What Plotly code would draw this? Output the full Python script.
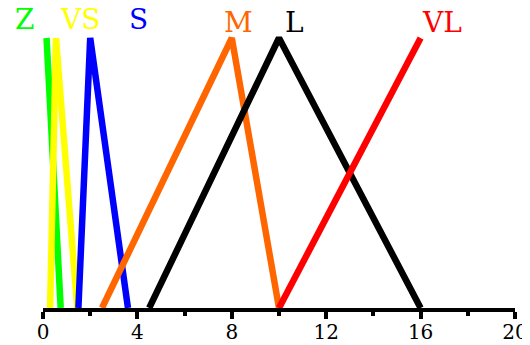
import plotly.graph_objects as go

# Fuzzy membership functions (universe 0..20, membership 0..1)
labels = ["Z", "VS", "S", "M", "L", "VL"]
colors = ["#00ff00", "#ffff00", "#0000ff", "#ff6600", "#000000", "#ff0000"]

z_x = [0.15, 0.75]
z_mu = [1, 0]
vs_x = [0.3, 0.55, 1.45]
vs_mu = [0, 1, 0]
s_x = [1.5, 2.0, 3.6]
s_mu = [0, 1, 0]
m_x = [2.5, 8.0, 10.0]
m_mu = [0, 1, 0]
l_x = [4.5, 10.0, 16.0]
l_mu = [0, 1, 0]
vl_x = [10.0, 16.0]
vl_mu = [0, 1]

tick_vals = [0, 4, 8, 12, 16, 20]
tick_text = ["0", "4", "8", "12", "16", "20"]

series_x = [z_x, vs_x, s_x, m_x, l_x, vl_x]
series_mu = [z_mu, vs_mu, s_mu, m_mu, l_mu, vl_mu]

# label styling offsets (pixels) relative to each function's peak
label_xshift = [-22, 24, 48, 7, 15, 21]
label_yshift = [18.5, 18.5, 18.5, 16, 16, 15.5]

fig = go.Figure()
for name, xs, mus, col in zip(labels, series_x, series_mu, colors):
    fig.add_trace(go.Scatter(x=xs, y=mus, mode="lines", name=name,
                             line=dict(color=col, width=6.5),
                             showlegend=False, hoverinfo="skip"))

for name, xs, mus, col, dx, dy in zip(labels, series_x, series_mu, colors,
                                      label_xshift, label_yshift):
    peak_x = xs[mus.index(max(mus))]
    fig.add_annotation(x=peak_x, y=max(mus), xref="x", yref="y",
                       text=name, showarrow=False,
                       xanchor="center", yanchor="middle",
                       xshift=dx, yshift=dy,
                       font=dict(family="DejaVu Serif", size=28, color=col))

fig.update_layout(
    width=522, height=345,
    margin=dict(l=35, r=15, t=2, b=45),
    paper_bgcolor="white", plot_bgcolor="white",
    xaxis=dict(range=[0, 20], tickvals=tick_vals, ticktext=tick_text,
               automargin=False,
               showgrid=False, zeroline=False,
               showline=True, linewidth=4, linecolor="black",
               ticks="outside", ticklen=7, tickwidth=4, tickcolor="black",
               ticklabelstandoff=-4,
               minor=dict(dtick=2, tick0=0, ticks="outside", ticklen=4,
                          tickwidth=4, tickcolor="black", showgrid=False),
               tickfont=dict(family="DejaVu Serif", size=20, color="black")),
    yaxis=dict(range=[0, 1.1037], visible=False, automargin=False),
)

fig.write_html("out.html")
